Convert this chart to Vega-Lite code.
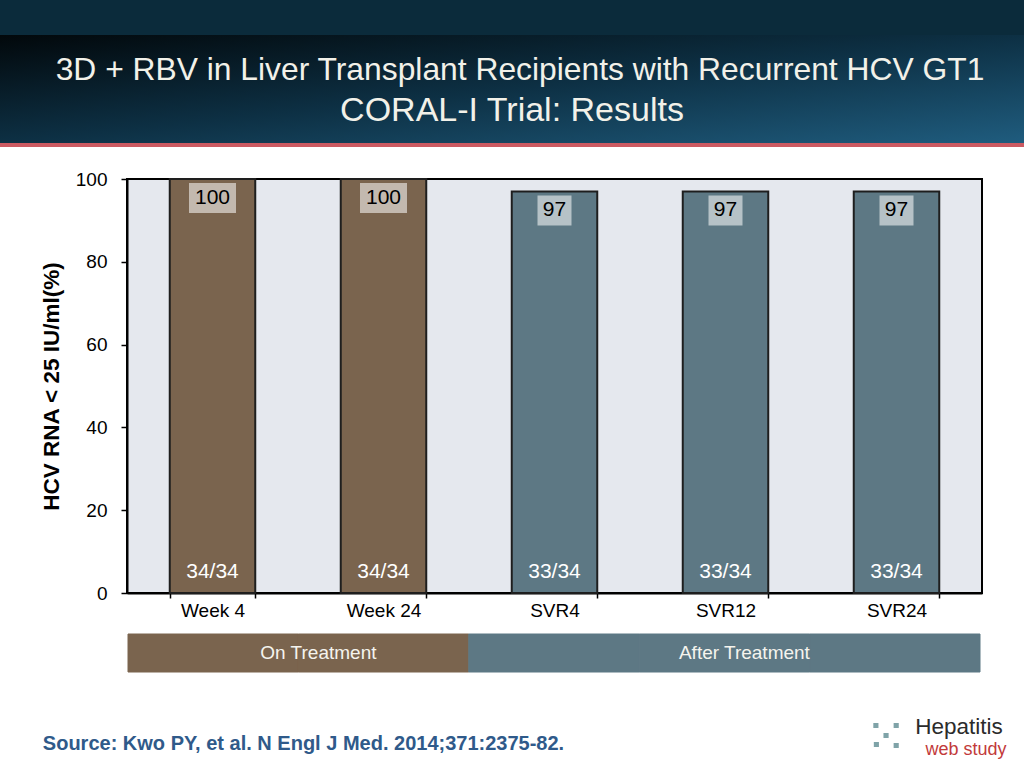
{
  "$schema": "https://vega.github.io/schema/vega-lite/v6.json",
  "padding": 0,
  "background": "#ffffff",
  "config": {
    "font": "Liberation Sans",
    "view": {"stroke": null},
    "concat": {"spacing": 0}
  },
  "datasets": {
    "blank": [{}],
    "results": [
      {"timepoint": "Week 4", "phase": "On Treatment", "value": 100, "n": "34/34"},
      {"timepoint": "Week 24", "phase": "On Treatment", "value": 100, "n": "34/34"},
      {"timepoint": "SVR4", "phase": "After Treatment", "value": 97, "n": "33/34"},
      {"timepoint": "SVR12", "phase": "After Treatment", "value": 97, "n": "33/34"},
      {"timepoint": "SVR24", "phase": "After Treatment", "value": 97, "n": "33/34"}
    ],
    "phases": [
      {"phase": "On Treatment", "anchor": "Week 24"},
      {"phase": "After Treatment", "anchor": "SVR12"}
    ],
    "titles": [
      {"line": 1, "text": "3D + RBV in Liver Transplant Recipients with Recurrent HCV GT1"},
      {"line": 2, "text": "CORAL-I Trial: Results"}
    ],
    "footer": [
      {"part": "source", "text": "Source: Kwo PY, et al. N Engl J Med. 2014;371:2375-82."},
      {"part": "brand", "text": "Hepatitis"},
      {"part": "sub", "text": "web study"},
      {"part": "dots", "text": "⁙"}
    ]
  },
  "spacing": 0,
  "vconcat": [
    {
      "width": 1024, "height": 35,
      "data": {"name": "blank"},
      "mark": {"type": "rect", "color": "#0b2b3b"},
      "encoding": {}
    },
    {
      "width": 1024, "height": 108,
      "data": {"name": "titles"},
      "layer": [
        {
          "data": {"name": "blank"},
          "mark": {"type": "rect", "color": {"gradient": "linear", "x1": 0, "y1": 0, "x2": 1, "y2": 1,
            "stops": [{"offset": 0, "color": "#02080b"}, {"offset": 0.5, "color": "#0d3044"}, {"offset": 1, "color": "#1f5c7e"}]}},
          "encoding": {}
        },
        {
          "transform": [{"filter": "datum.line == 1"}],
          "mark": {"type": "text", "fontSize": 31.8, "color": "#f2f1e9", "baseline": "alphabetic", "dy": -9, "dx": 8},
          "encoding": {"text": {"field": "text"}}
        },
        {
          "transform": [{"filter": "datum.line == 2"}],
          "mark": {"type": "text", "fontSize": 34, "color": "#f2f1e9", "baseline": "alphabetic", "dy": 32},
          "encoding": {"text": {"field": "text"}}
        }
      ]
    },
    {
      "width": 1024, "height": 4,
      "data": {"name": "blank"},
      "mark": {"type": "rect", "color": "#cc5a62"},
      "encoding": {}
    },
    {
      "width": 1024, "height": 22,
      "data": {"name": "blank"},
      "mark": {"type": "rect", "opacity": 0},
      "encoding": {}
    },
    {
      "bounds": "flush",
      "spacing": 0,
      "hconcat": [
        {
          "width": 127, "height": 414,
          "data": {"name": "blank"},
          "mark": {"type": "rect", "opacity": 0},
          "encoding": {}
        },
        {
          "width": 855, "height": 414,
          "view": {"fill": "#e5e8ee", "stroke": "#000000", "strokeWidth": 2},
          "data": {"name": "results"},
          "encoding": {
            "x": {
              "field": "timepoint", "type": "nominal",
              "scale": {"domain": ["Week 4", "Week 24", "SVR4", "SVR12", "SVR24"], "paddingInner": 0.5, "paddingOuter": 0.25},
              "axis": {"title": null, "labelAngle": 0, "labelFontSize": 19, "labelColor": "#000000", "labelPadding": 3,
                "domainColor": "#000000", "domainWidth": 2, "tickColor": "#000000", "tickWidth": 1.5, "tickSize": 5, "tickBand": "extent"}
            }
          },
          "layer": [
            {
              "mark": {"type": "bar", "stroke": "#1e1e1e", "strokeWidth": 2},
              "encoding": {
                "y": {
                  "field": "value", "type": "quantitative", "stack": null,
                  "scale": {"domain": [0, 100], "nice": false},
                  "axis": {"title": "HCV RNA < 25 IU/ml(%)", "titleFontSize": 22.5, "titleFontWeight": "bold", "titleColor": "#000000", "titlePadding": 12,
                    "values": [0, 20, 40, 60, 80, 100], "grid": false, "labelFontSize": 19, "labelColor": "#000000", "labelPadding": 14,
                    "domainColor": "#000000", "domainWidth": 2, "tickColor": "#000000", "tickWidth": 1.5, "tickSize": 6}
                },
                "color": {"field": "phase", "type": "nominal",
                  "scale": {"domain": ["On Treatment", "After Treatment"], "range": ["#7a644e", "#5d7884"]}, "legend": null}
              }
            },
            {
              "transform": [{"filter": "datum.value >= 100"}],
              "mark": {"type": "bar", "width": 47, "color": "#ffffff", "opacity": 0.55, "yOffset": 4, "y2Offset": 34},
              "encoding": {"y": {"field": "value", "type": "quantitative", "stack": null}, "y2": {"field": "value"}}
            },
            {
              "transform": [{"filter": "datum.value < 100"}],
              "mark": {"type": "bar", "width": 34, "color": "#ffffff", "opacity": 0.55, "yOffset": 4, "y2Offset": 34},
              "encoding": {"y": {"field": "value", "type": "quantitative", "stack": null}, "y2": {"field": "value"}}
            },
            {
              "mark": {"type": "text", "fontSize": 21, "color": "#000000", "baseline": "middle", "dy": 19},
              "encoding": {"y": {"field": "value", "type": "quantitative", "stack": null}, "text": {"field": "value"}}
            },
            {
              "mark": {"type": "text", "fontSize": 21, "color": "#ffffff", "baseline": "middle", "dy": -21},
              "encoding": {"y": {"datum": 0, "type": "quantitative"}, "text": {"field": "n"}}
            }
          ]
        }
      ]
    },
    {
      "width": 1024, "height": 12,
      "data": {"name": "blank"},
      "mark": {"type": "rect", "opacity": 0},
      "encoding": {}
    },
    {
      "bounds": "flush",
      "spacing": 0,
      "hconcat": [
        {
          "width": 128, "height": 38,
          "data": {"name": "blank"},
          "mark": {"type": "rect", "opacity": 0},
          "encoding": {}
        },
        {
          "width": 852, "height": 38,
          "layer": [
            {
              "data": {"name": "results"},
              "mark": {"type": "rect", "strokeWidth": 1},
              "encoding": {
                "x": {"field": "timepoint", "type": "nominal", "axis": null,
                  "scale": {"domain": ["Week 4", "Week 24", "SVR4", "SVR12", "SVR24"], "paddingInner": 0, "paddingOuter": 0}},
                "color": {"field": "phase", "type": "nominal",
                  "scale": {"domain": ["On Treatment", "After Treatment"], "range": ["#7a644e", "#5d7884"]}, "legend": null},
                "stroke": {"field": "phase", "type": "nominal",
                  "scale": {"domain": ["On Treatment", "After Treatment"], "range": ["#7a644e", "#5d7884"]}, "legend": null}
              }
            },
            {
              "data": {"name": "phases"},
              "transform": [{"filter": "datum.phase == 'On Treatment'"}],
              "mark": {"type": "text", "fontSize": 19, "color": "#f5f4ee", "baseline": "middle", "dx": 20},
              "encoding": {"x": {"field": "anchor", "type": "nominal", "bandPosition": 0}, "text": {"field": "phase"}}
            },
            {
              "data": {"name": "phases"},
              "transform": [{"filter": "datum.phase == 'After Treatment'"}],
              "mark": {"type": "text", "fontSize": 19, "color": "#f5f4ee", "baseline": "middle", "dx": 20},
              "encoding": {"x": {"field": "anchor", "type": "nominal", "bandPosition": 0.5}, "text": {"field": "phase"}}
            }
          ]
        }
      ]
    },
    {
      "bounds": "flush",
      "spacing": 0,
      "hconcat": [
        {
          "width": 45, "height": 96,
          "data": {"name": "blank"},
          "mark": {"type": "rect", "opacity": 0},
          "encoding": {}
        },
        {
          "width": 517, "height": 96,
          "data": {"name": "footer"},
          "transform": [{"filter": "datum.part == 'source'"}],
          "mark": {"type": "text", "fontSize": 20, "fontWeight": "bold", "color": "#2f5a8a", "baseline": "alphabetic", "dy": 29},
          "encoding": {"text": {"field": "text"}}
        },
        {
          "width": 302, "height": 96,
          "data": {"name": "blank"},
          "mark": {"type": "rect", "opacity": 0},
          "encoding": {}
        },
        {
          "width": 44, "height": 96,
          "data": {"name": "footer"},
          "transform": [{"filter": "datum.part == 'dots'"}],
          "mark": {"type": "text", "font": "DejaVu Sans", "fontSize": 52, "color": "#7fa3a8", "baseline": "middle", "dy": 17},
          "encoding": {"text": {"field": "text"}}
        },
        {
          "width": 2, "height": 96,
          "data": {"name": "blank"},
          "mark": {"type": "rect", "opacity": 0},
          "encoding": {}
        },
        {
          "width": 98, "height": 96,
          "data": {"name": "footer"},
          "layer": [
            {
              "transform": [{"filter": "datum.part == 'brand'"}],
              "mark": {"type": "text", "fontSize": 22.5, "color": "#2b2b2b", "baseline": "alphabetic", "dy": 13},
              "encoding": {"text": {"field": "text"}}
            },
            {
              "transform": [{"filter": "datum.part == 'sub'"}],
              "mark": {"type": "text", "fontSize": 18, "color": "#c23a3a", "baseline": "alphabetic", "dy": 34, "dx": 7},
              "encoding": {"text": {"field": "text"}}
            }
          ]
        }
      ]
    }
  ]
}
